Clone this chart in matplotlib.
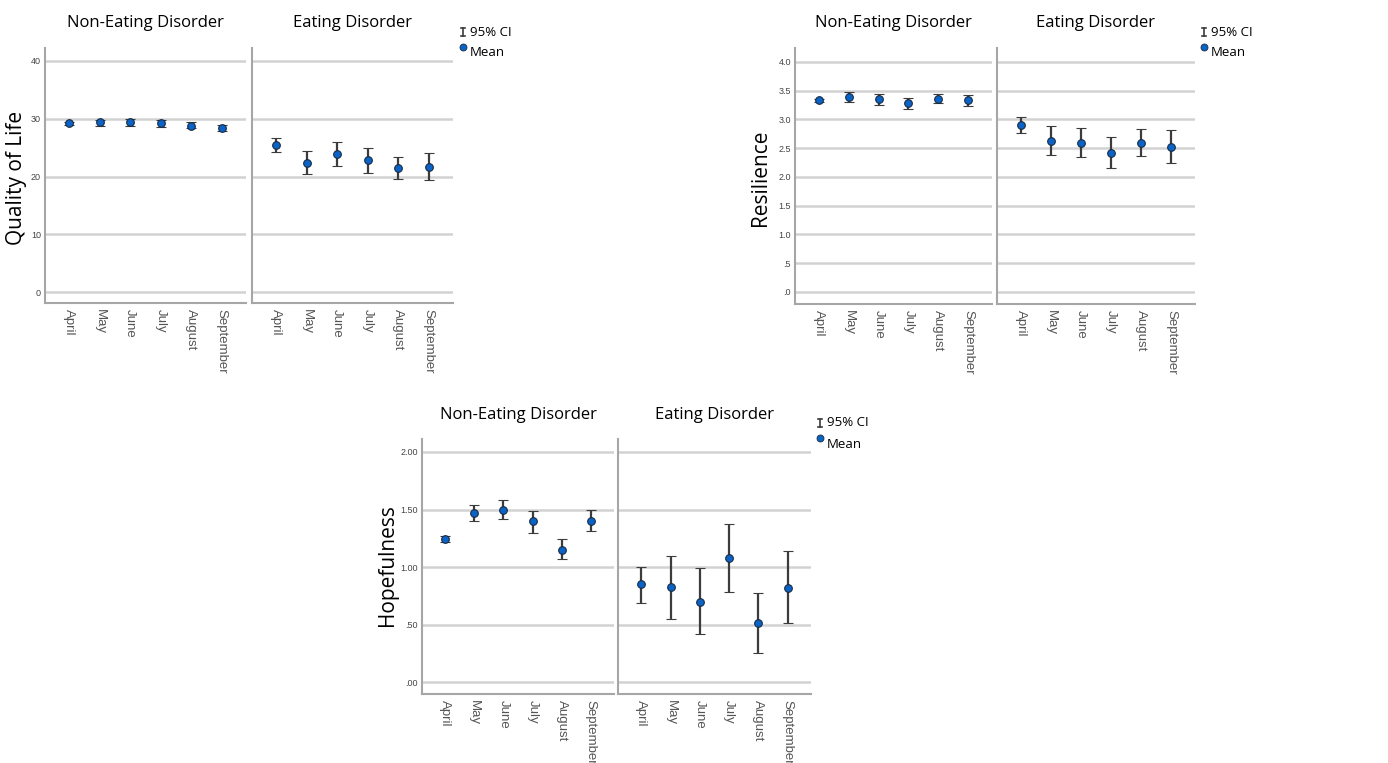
import matplotlib.pyplot as plt
from matplotlib.lines import Line2D

months = ['April', 'May', 'June', 'July', 'August', 'September']
groups = ['Non-Eating Disorder', 'Eating Disorder']

# Quality of Life: mean, lower CI, upper CI
qol_ned_mean = [29.2, 29.4, 29.4, 29.2, 28.8, 28.4]
qol_ned_lo = [29.0, 28.8, 28.8, 28.6, 28.4, 27.9]
qol_ned_hi = [29.4, 29.8, 30.0, 29.8, 29.4, 29.0]
qol_ed_mean = [25.5, 22.4, 23.9, 22.8, 21.4, 21.7]
qol_ed_lo = [24.2, 20.4, 21.8, 20.6, 19.5, 19.4]
qol_ed_hi = [26.7, 24.5, 26.0, 24.9, 23.4, 24.0]

# Resilience
res_ned_mean = [3.33, 3.39, 3.35, 3.28, 3.36, 3.33]
res_ned_lo = [3.31, 3.31, 3.26, 3.18, 3.28, 3.23]
res_ned_hi = [3.36, 3.47, 3.44, 3.37, 3.45, 3.43]
res_ed_mean = [2.90, 2.63, 2.59, 2.42, 2.59, 2.52]
res_ed_lo = [2.76, 2.38, 2.34, 2.16, 2.36, 2.24]
res_ed_hi = [3.05, 2.88, 2.85, 2.69, 2.83, 2.81]

# Hopefulness
hope_ned_mean = [1.24, 1.47, 1.50, 1.40, 1.15, 1.40]
hope_ned_lo = [1.22, 1.40, 1.42, 1.30, 1.07, 1.31]
hope_ned_hi = [1.27, 1.54, 1.58, 1.49, 1.24, 1.50]
hope_ed_mean = [0.85, 0.83, 0.70, 1.08, 0.51, 0.82]
hope_ed_lo = [0.69, 0.55, 0.42, 0.78, 0.25, 0.51]
hope_ed_hi = [1.00, 1.10, 0.99, 1.37, 0.77, 1.14]

qol_ticks = [0, 10, 20, 30, 40]
qol_labels = ['0', '10', '20', '30', '40']
res_ticks = [0, 0.5, 1.0, 1.5, 2.0, 2.5, 3.0, 3.5, 4.0]
res_labels = ['.0', '.5', '1.0', '1.5', '2.0', '2.5', '3.0', '3.5', '4.0']
hope_ticks = [0, 0.5, 1.0, 1.5, 2.0]
hope_labels = ['.00', '.50', '1.00', '1.50', '2.00']

W, H = 1388, 763
fig = plt.figure(figsize=(W / 100, H / 100), dpi=100)

GRID = '#d2d2d2'
SPINE = '#a6a6a6'
BAR = '#3c3c3c'
DOT = '#0a64c8'


def px_rect(x0, x1, y0, y1):
    return [x0 / W, 1 - y1 / H, (x1 - x0) / W, (y1 - y0) / H]


def panel(x0, x1, y0, y1, mean, lo, hi, ylim, ticks, labels, show_y):
    ax = fig.add_axes(px_rect(x0, x1, y0, y1))
    yerr = [[m - l for m, l in zip(mean, lo)], [h - m for m, h in zip(mean, hi)]]
    ax.errorbar(months, mean, yerr=yerr, fmt='o', color=BAR, ecolor=BAR,
                elinewidth=1.6, capsize=3.8, capthick=1.6,
                markerfacecolor=DOT, markeredgecolor='#1a2a40',
                markeredgewidth=0.8, markersize=5.5, zorder=3)
    ax.set_xlim(-0.8, 5.8)
    ax.set_ylim(*ylim)
    ax.set_yticks(ticks)
    for t in ticks:
        ax.axhline(t, color=GRID, lw=1.8, zorder=1)
    if show_y:
        ax.set_yticklabels(labels, fontsize=6.5, color='#444444', family='Liberation Sans')
    else:
        ax.set_yticklabels([])
    ax.tick_params(length=0, pad=3)
    ax.tick_params(axis='x', pad=4)
    for lab in ax.get_xticklabels():
        lab.set_rotation(270)
        lab.set_fontsize(9.5)
        lab.set_color('#555555')
        lab.set_family('Liberation Sans')
        lab.set_va('top')
        lab.set_ha('center')
    for s in ['top', 'right']:
        ax.spines[s].set_visible(False)
    for s in ['left', 'bottom']:
        ax.spines[s].set_color(SPINE)
        ax.spines[s].set_linewidth(1.5)
    return ax


def chart(xs, y0, y1, data, ylim, ticks, labels, ylabel, ylab_xy, title_y, leg_xy):
    (a0, a1), (b0, b1) = xs
    (m1, l1, h1), (m2, l2, h2) = data
    panel(a0, a1, y0, y1, m1, l1, h1, ylim, ticks, labels, True)
    panel(b0, b1, y0, y1, m2, l2, h2, ylim, ticks, labels, False)
    for (c0, c1), g in zip(xs, groups):
        fig.text((c0 + c1) / 2 / W, 1 - title_y / H, g, ha='center', va='center',
                 fontsize=12, family='Open Sans')
    fig.text(ylab_xy[0] / W, 1 - ylab_xy[1] / H, ylabel, rotation=90,
             ha='center', va='center', fontsize=15, family='Open Sans')
    lx, ly = leg_xy
    fig.text((lx + 7) / W, 1 - ly / H, '95% CI', ha='left', va='center',
             fontsize=9.5, family='Open Sans')
    fig.text((lx + 7) / W, 1 - (ly + 21) / H, 'Mean', ha='left', va='center',
             fontsize=9.5, family='Open Sans')
    # error bar glyph
    fig.add_artist(Line2D([lx / W, lx / W], [1 - (ly - 4) / H, 1 - (ly + 4) / H],
                          color=BAR, lw=1.2))
    for dy in (-4, 4):
        fig.add_artist(Line2D([(lx - 2) / W, (lx + 2) / W],
                              [1 - (ly + dy) / H, 1 - (ly + dy) / H], color=BAR, lw=1.2))
    fig.add_artist(Line2D([lx / W], [1 - (ly + 15) / H], marker='o', color=DOT,
                          markersize=5, markeredgecolor='#1a2a40', markeredgewidth=0.6))


chart([(45, 246), (252, 453)], 48, 303,
      [(qol_ned_mean, qol_ned_lo, qol_ned_hi), (qol_ed_mean, qol_ed_lo, qol_ed_hi)],
      (-1.9, 42.25), qol_ticks, qol_labels, 'Quality of Life', (17, 178), 23, (463, 32))

chart([(795, 992), (997, 1195)], 48, 304,
      [(res_ned_mean, res_ned_lo, res_ned_hi), (res_ed_mean, res_ed_lo, res_ed_hi)],
      (-0.209, 4.243), res_ticks, res_labels, 'Resilience', (761, 178), 23, (1204, 32))

chart([(422, 614), (618, 811)], 439, 694,
      [(hope_ned_mean, hope_ned_lo, hope_ned_hi), (hope_ed_mean, hope_ed_lo, hope_ed_hi)],
      (-0.104, 2.113), hope_ticks, hope_labels, 'Hopefulness', (388, 565), 415, (820, 423))

fig.savefig('out.png', dpi=100)
